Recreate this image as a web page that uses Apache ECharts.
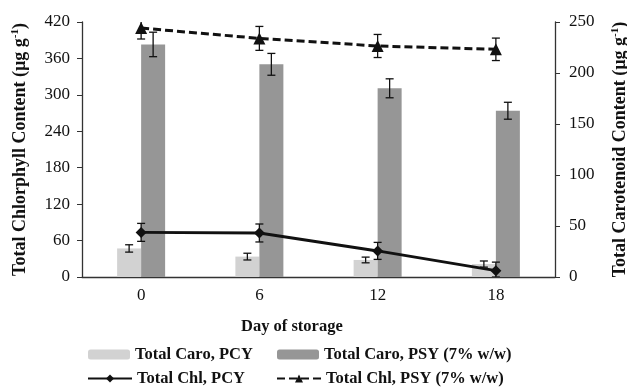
<!DOCTYPE html>
<html><head><meta charset="utf-8">
<script src="https://cdn.jsdelivr.net/npm/echarts@6/dist/echarts.min.js"></script>
<style>html,body{margin:0;padding:0;background:#fff}#c{width:627px;height:388px}</style>
</head><body><div id="c"></div>
<script>
const days = ['0', '6', '12', '18'];
const leftTicks = [0, 60, 120, 180, 240, 300, 360, 420];
const rightTicks = [0, 50, 100, 150, 200, 250];
const caroPCY = [28, 20, 16.7, 12.7];
const caroPCYErr = [3.6, 3.3, 2.8, 3];
const caroPSY = [228, 208.5, 185, 163];
const caroPSYErr = [12, 10.7, 9.3, 8.3];
const chlPCY = [73.5, 72.5, 43, 10.5];
const chlPCYErr = [14.8, 14.8, 14, 14];
const chlPSY = [410, 393, 380.5, 375];
const chlPSYErr = [18, 19.7, 19, 18.5];

const FONT = 'Liberation Serif';
function errData(vals, errs) { return vals.map((v, i) => [i, v, errs[i]]); }
function errSeries(vals, errs, yAxisIndex, offset) {
  return {
    type: 'custom', yAxisIndex: yAxisIndex, clip: true, z: 5, silent: true,
    data: errData(vals, errs),
    renderItem: function (params, api) {
      const i = api.value(0), v = api.value(1), e = api.value(2);
      const hi = api.coord([i, v + e]);
      const lo = api.coord([i, Math.max(v - e, 0)]);
      const x = hi[0] + offset, w = 4;
      const st = { stroke: '#111', lineWidth: 1.3 };
      return { type: 'group', children: [
        { type: 'line', shape: { x1: x, y1: hi[1], x2: x, y2: lo[1] }, style: st },
        { type: 'line', shape: { x1: x - w, y1: hi[1], x2: x + w, y2: hi[1] }, style: st },
        { type: 'line', shape: { x1: x - w, y1: lo[1], x2: x + w, y2: lo[1] }, style: st }
      ]};
    }
  };
}
function legend(name, left, top, w) {
  return { data: [name], left: left, top: top, padding: 0, itemWidth: w, itemHeight: 10, itemGap: 0,
    textStyle: { fontFamily: FONT, fontWeight: 'bold', fontSize: 16.5, color: '#111' } };
}
const rich = {
  a: { fontFamily: FONT, fontWeight: 'bold', fontSize: 18, color: '#111' },
  s: { fontFamily: FONT, fontWeight: 'bold', fontSize: 11, color: '#111', verticalAlign: 'top', padding: [0, 0, 9, 0] }
};
const chart = echarts.init(document.getElementById('c'));
chart.setOption({
  animation: false,
  textStyle: { fontFamily: FONT },
  grid: { left: 82, right: 72, top: 22, bottom: 111, containLabel: false, outerBoundsMode: 'none' },
  title: { text: 'Day of storage', left: 236, top: 313,
    textStyle: { fontFamily: FONT, fontWeight: 'bold', fontSize: 16.5, color: '#111' } },
  legend: [
    legend('Total Caro, PCY', 88, 346, 42),
    legend('Total Caro, PSY (7% w/w)', 277, 346, 42),
    legend('Total Chl, PCY', 87, 370, 44),
    legend('Total Chl, PSY (7% w/w)', 276, 370, 44)
  ],
  xAxis: {
    type: 'category', data: days,
    axisLine: { lineStyle: { color: '#333', width: 1.3 } },
    axisTick: { show: false },
    axisLabel: { fontFamily: FONT, fontSize: 17, color: '#111', margin: 10 }
  },
  yAxis: [
    { type: 'value', min: leftTicks[0], max: leftTicks[leftTicks.length - 1], interval: 60,
      splitLine: { show: false },
      axisLine: { show: true, lineStyle: { color: '#333', width: 1.3 } },
      axisTick: { show: true, length: 5, lineStyle: { color: '#333' } },
      axisLabel: { fontFamily: FONT, fontSize: 17, color: '#111', margin: 12 },
      name: '{a|Total Chlorphyll Content (µg g}{s|-1}{a|)}',
      nameLocation: 'middle', nameGap: 52, nameRotate: 90,
      nameTextStyle: { rich: rich }
    },
    { type: 'value', min: rightTicks[0], max: rightTicks[rightTicks.length - 1], interval: 50,
      position: 'right', splitLine: { show: false },
      axisLine: { show: true, lineStyle: { color: '#333', width: 1.3 } },
      axisTick: { show: true, length: 5, lineStyle: { color: '#333' } },
      axisLabel: { fontFamily: FONT, fontSize: 17, color: '#111', margin: 14 },
      name: '{a|Total Carotenoid Content (µg g}{s|-1}{a|)}',
      nameLocation: 'middle', nameGap: 55, nameRotate: 90,
      nameTextStyle: { rich: rich }
    }
  ],
  series: [
    { name: 'Total Caro, PCY', type: 'bar', yAxisIndex: 1, data: caroPCY, barWidth: 24, barGap: '0%',
      itemStyle: { color: '#d2d2d2' } },
    { name: 'Total Caro, PSY (7% w/w)', type: 'bar', yAxisIndex: 1, data: caroPSY, barWidth: 24, barGap: '0%',
      itemStyle: { color: '#969696' } },
    { name: 'Total Chl, PCY', type: 'line', yAxisIndex: 0, data: chlPCY, z: 6,
      symbol: 'diamond', symbolSize: 11, lineStyle: { color: '#111', width: 3 }, itemStyle: { color: '#111' } },
    { name: 'Total Chl, PSY (7% w/w)', type: 'line', yAxisIndex: 0, data: chlPSY, z: 6,
      symbol: 'triangle', symbolSize: 12, lineStyle: { color: '#111', width: 3, type: [8, 4] }, itemStyle: { color: '#111' } },
    errSeries(caroPCY, caroPCYErr, 1, -12),
    errSeries(caroPSY, caroPSYErr, 1, 12),
    errSeries(chlPCY, chlPCYErr, 0, 0),
    errSeries(chlPSY, chlPSYErr, 0, 0)
  ]
});
</script></body></html>
